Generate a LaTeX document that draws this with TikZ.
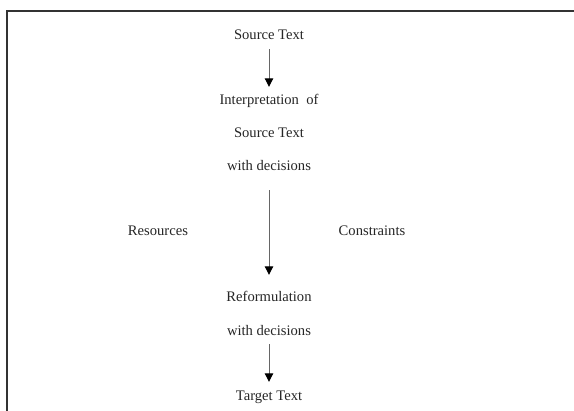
\documentclass[tikz,border=0pt]{standalone}
\usepackage{fontspec}
\setmainfont{Liberation Serif}
\usetikzlibrary{arrows.meta}
\begin{document}
\begin{tikzpicture}[x=1pt,y=1pt,
  lbl/.style={inner sep=0pt, text height=10pt, text depth=3pt, text=black!85,
    font=\fontsize{14.6}{16}\selectfont},
  arr/.style={draw=black!60, line width=1pt,
    -{Triangle[length=8.5pt,width=8.5pt,color=black]}}]
\useasboundingbox[fill=white] (0,0) rectangle (574,-411);
\draw[black!80, line width=2pt] (6.5,-411) -- (6.5,-11.5) -- (574,-11.5);

\node[lbl] (st)  at (269,-36.5)  {Source Text};
\node[lbl] (io)  at (269,-101.5) {Interpretation\ \ of};
\node[lbl] (st2) at (269,-134.5) {Source Text};
\node[lbl] (wd1) at (269,-167.5) {with decisions};
\node[lbl] (res) at (158,-232.5) {Resources};
\node[lbl] (con) at (372,-232.5) {Constraints};
\node[lbl] (ref) at (269,-298.5) {Reformulation};
\node[lbl] (wd2) at (269,-332.5) {with decisions};
\node[lbl] (tt)  at (269,-397.5) {Target Text};

\draw[arr] ([yshift=-6pt]st.south) -- ([yshift=8pt]io.north);
\draw[arr] ([yshift=-16pt]wd1.south) -- ([yshift=17pt]ref.north);
\draw[arr] ([yshift=-5pt]wd2.south) -- ([yshift=9pt]tt.north);
\end{tikzpicture}
\end{document}
